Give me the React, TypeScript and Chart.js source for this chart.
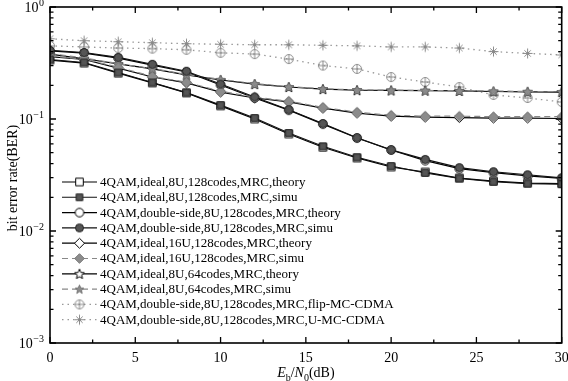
import React, { useEffect, useRef } from 'react';
import { Chart, registerables } from 'chart.js';
Chart.register(...registerables);

const snr = [0, 2, 4, 6, 8, 10, 12, 14, 16, 18, 20, 22, 24, 26, 28, 30];

const ideal8U128Theory = [0.336, 0.316, 0.257, 0.21, 0.171, 0.131, 0.1, 0.0735, 0.056, 0.0449, 0.0373, 0.0336, 0.0297, 0.0279, 0.0268, 0.0265];
const ideal8U128Simu = [0.34, 0.32, 0.26, 0.212, 0.172, 0.133, 0.102, 0.075, 0.057, 0.0455, 0.038, 0.033, 0.0295, 0.0275, 0.0265, 0.0262];
const double8U128Theory = [0.405, 0.388, 0.35, 0.303, 0.263, 0.201, 0.154, 0.12, 0.09, 0.0676, 0.0529, 0.0425, 0.036, 0.0332, 0.031, 0.0295];
const double8U128Simu = [0.41, 0.392, 0.355, 0.308, 0.267, 0.205, 0.157, 0.121, 0.091, 0.068, 0.053, 0.0436, 0.0368, 0.0338, 0.0318, 0.0298];
const ideal16U128Theory = [0.36, 0.34, 0.285, 0.237, 0.21, 0.174, 0.154, 0.142, 0.125, 0.113, 0.106, 0.104, 0.103, 0.102, 0.102, 0.101];
const ideal16U128Simu = [0.365, 0.343, 0.29, 0.24, 0.213, 0.177, 0.157, 0.144, 0.127, 0.115, 0.108, 0.106, 0.106, 0.105, 0.105, 0.105];
const ideal8U64Theory = [0.38, 0.345, 0.31, 0.28, 0.248, 0.223, 0.205, 0.193, 0.185, 0.181, 0.18, 0.179, 0.178, 0.176, 0.175, 0.174];
const ideal8U64Simu = [0.385, 0.35, 0.312, 0.282, 0.25, 0.226, 0.207, 0.195, 0.186, 0.182, 0.181, 0.18, 0.179, 0.178, 0.176, 0.176];
const flipMcCdma = [0.45, 0.44, 0.43, 0.425, 0.415, 0.39, 0.38, 0.343, 0.3, 0.28, 0.237, 0.214, 0.193, 0.164, 0.154, 0.142];
const uMcCdma = [0.52, 0.5, 0.49, 0.48, 0.47, 0.465, 0.46, 0.46, 0.455, 0.45, 0.44, 0.44, 0.43, 0.4, 0.385, 0.373];

const seriesLabels = [
  '4QAM,ideal,8U,128codes,MRC,theory',
  '4QAM,ideal,8U,128codes,MRC,simu',
  '4QAM,double-side,8U,128codes,MRC,theory',
  '4QAM,double-side,8U,128codes,MRC,simu',
  '4QAM,ideal,16U,128codes,MRC,theory',
  '4QAM,ideal,16U,128codes,MRC,simu',
  '4QAM,ideal,8U,64codes,MRC,theory',
  '4QAM,ideal,8U,64codes,MRC,simu',
  '4QAM,double-side,8U,128codes,MRC,flip-MC-CDMA',
  '4QAM,double-side,8U,128codes,MRC,U-MC-CDMA',
];

const xTickValues = [0, 5, 10, 15, 20, 25, 30];
const yDecades = [-3, -2, -1, 0];
const xTitle = ['E', 'b', '/', 'N', '0', '(dB)'];
const yTitle = 'bit error rate(BER)';

const SERIF = '"Liberation Serif", "Times New Roman", serif';

type Kind = 'square' | 'circle' | 'diamond' | 'star5' | 'circlePlus' | 'asterisk';

function makeMarker(kind: Kind, fill: string, stroke: string, r: number, lw = 1): HTMLCanvasElement {
  const size = Math.ceil(2 * r + lw + 2);
  const c = document.createElement('canvas');
  c.width = size;
  c.height = size;
  const ctx = c.getContext('2d')!;
  const cx = size / 2;
  const cy = size / 2;
  ctx.lineWidth = lw;
  ctx.strokeStyle = stroke;
  ctx.fillStyle = fill;
  ctx.beginPath();
  if (kind === 'square') {
    ctx.rect(cx - r, cy - r, 2 * r, 2 * r);
  } else if (kind === 'circle') {
    ctx.arc(cx, cy, r, 0, Math.PI * 2);
  } else if (kind === 'diamond') {
    ctx.moveTo(cx, cy - r);
    ctx.lineTo(cx + r, cy);
    ctx.lineTo(cx, cy + r);
    ctx.lineTo(cx - r, cy);
    ctx.closePath();
  } else if (kind === 'star5') {
    const inner = r * 0.45;
    for (let i = 0; i < 10; i++) {
      const rr = i % 2 === 0 ? r : inner;
      const a = -Math.PI / 2 + (i * Math.PI) / 5;
      const px = cx + rr * Math.cos(a);
      const py = cy + rr * Math.sin(a) + r * 0.1;
      if (i === 0) ctx.moveTo(px, py);
      else ctx.lineTo(px, py);
    }
    ctx.closePath();
  } else if (kind === 'circlePlus') {
    ctx.arc(cx, cy, r, 0, Math.PI * 2);
    if (fill !== 'none') ctx.fill();
    ctx.stroke();
    ctx.beginPath();
    ctx.moveTo(cx - r, cy);
    ctx.lineTo(cx + r, cy);
    ctx.moveTo(cx, cy - r);
    ctx.lineTo(cx, cy + r);
    ctx.stroke();
    return c;
  } else if (kind === 'asterisk') {
    for (let i = 0; i < 4; i++) {
      const a = (i * Math.PI) / 4;
      const rr = i % 2 === 0 ? r : r * 0.9;
      ctx.moveTo(cx - rr * Math.cos(a), cy - rr * Math.sin(a));
      ctx.lineTo(cx + rr * Math.cos(a), cy + rr * Math.sin(a));
    }
    ctx.stroke();
    return c;
  }
  if (fill !== 'none') ctx.fill();
  ctx.stroke();
  return c;
}

export default function App() {
  const ref = useRef<HTMLCanvasElement | null>(null);

  useEffect(() => {
    const canvas = ref.current;
    if (!canvas) return;

    const seriesValues = [
      ideal8U128Theory, ideal8U128Simu, double8U128Theory, double8U128Simu,
      ideal16U128Theory, ideal16U128Simu, ideal8U64Theory, ideal8U64Simu,
      flipMcCdma, uMcCdma,
    ];

    const styles = [
      { color: '#000', width: 1.2, dash: [] as number[], marker: makeMarker('square', '#fff', '#000', 3.8), order: 2 },
      { color: '#111', width: 1.1, dash: [] as number[], marker: makeMarker('square', '#555', '#222', 3.3), order: 1 },
      { color: '#000', width: 1.2, dash: [] as number[], marker: makeMarker('circle', '#fff', '#000', 4.3), order: 2 },
      { color: '#111', width: 1.1, dash: [] as number[], marker: makeMarker('circle', '#555', '#222', 4.0), order: 1 },
      { color: '#000', width: 1.2, dash: [] as number[], marker: makeMarker('diamond', '#fff', '#000', 5.0), order: 2 },
      { color: '#888', width: 1.2, dash: [6, 4], marker: makeMarker('diamond', '#8c8c8c', '#777', 4.8), order: 1 },
      { color: '#000', width: 1.2, dash: [] as number[], marker: makeMarker('star5', '#fff', '#000', 5.2), order: 2 },
      { color: '#888', width: 1.2, dash: [6, 4], marker: makeMarker('star5', '#8c8c8c', '#777', 4.6), order: 1 },
      { color: '#999', width: 1.3, dash: [1.5, 4], marker: makeMarker('circlePlus', 'none', '#8a8a8a', 4.5), order: 3 },
      { color: '#999', width: 1.3, dash: [1.5, 4], marker: makeMarker('asterisk', 'none', '#8a8a8a', 5.0), order: 3 },
    ];

    const datasets = seriesValues.map((vals, i) => ({
      label: seriesLabels[i],
      data: snr.map((x, j) => ({ x, y: vals[j] })),
      borderColor: styles[i].color,
      borderWidth: styles[i].width,
      borderDash: styles[i].dash,
      pointStyle: styles[i].marker as any,
      pointRadius: 5,
      backgroundColor: styles[i].color,
      fill: false,
      tension: 0,
      order: styles[i].order,
    }));

    const decorPlugin = {
      id: 'decor',
      afterDraw(chart: any) {
        const ctx: CanvasRenderingContext2D = chart.ctx;
        const { left, right, top, bottom } = chart.chartArea;
        const xs = chart.scales.x;
        const ys = chart.scales.y;
        ctx.save();
        ctx.strokeStyle = '#000';
        ctx.fillStyle = '#000';
        ctx.setLineDash([]);
        // frame
        ctx.lineWidth = 1.6;
        ctx.strokeRect(left, top, right - left, bottom - top);
        // x ticks
        ctx.lineWidth = 1.3;
        for (let v = 0; v <= 30; v += 2.5) {
          const px = xs.getPixelForValue(v);
          const len = v % 5 === 0 ? 6 : 3.5;
          ctx.beginPath();
          ctx.moveTo(px, bottom);
          ctx.lineTo(px, bottom - len);
          ctx.moveTo(px, top);
          ctx.lineTo(px, top + len);
          ctx.stroke();
        }
        // y ticks
        for (const d of yDecades) {
          for (let m = 1; m <= 9; m++) {
            const v = m * Math.pow(10, d);
            if (v > 1.0000001) break;
            const py = ys.getPixelForValue(v);
            const len = m === 1 ? 6 : 3.5;
            ctx.beginPath();
            ctx.moveTo(left, py);
            ctx.lineTo(left + len, py);
            ctx.moveTo(right, py);
            ctx.lineTo(right - len, py);
            ctx.stroke();
          }
        }
        // x tick labels
        ctx.font = `14px ${SERIF}`;
        ctx.textAlign = 'center';
        ctx.textBaseline = 'middle';
        for (const v of xTickValues) {
          ctx.fillText(String(v), xs.getPixelForValue(v), bottom + 15);
        }
        // y tick labels
        for (const d of yDecades) {
          const py = ys.getPixelForValue(Math.pow(10, d));
          const exp = d === 0 ? '0' : '\u2212' + String(-d);
          ctx.font = `10px ${SERIF}`;
          const ew = ctx.measureText(exp).width;
          ctx.textAlign = 'left';
          ctx.textBaseline = 'alphabetic';
          const xr = left - 6;
          ctx.fillText(exp, xr - ew, py - 1);
          ctx.font = `14px ${SERIF}`;
          const bw = ctx.measureText('10').width;
          ctx.fillText('10', xr - ew - bw - 0.5, py + 5);
        }
        // y title
        ctx.save();
        ctx.translate(13, (top + bottom) / 2 + 3);
        ctx.rotate(-Math.PI / 2);
        ctx.font = `14px ${SERIF}`;
        ctx.textAlign = 'center';
        ctx.textBaseline = 'middle';
        ctx.fillText(yTitle, 0, 0);
        ctx.restore();
        // x title
        const parts = [
          { t: xTitle[0], f: `italic 14px ${SERIF}`, dy: 0 },
          { t: xTitle[1], f: `10px ${SERIF}`, dy: 4 },
          { t: xTitle[2], f: `14px ${SERIF}`, dy: 0 },
          { t: xTitle[3], f: `italic 14px ${SERIF}`, dy: 0 },
          { t: xTitle[4], f: `10px ${SERIF}`, dy: 4 },
          { t: xTitle[5], f: `14px ${SERIF}`, dy: 0 },
        ];
        let total = 0;
        for (const p of parts) {
          ctx.font = p.f;
          total += ctx.measureText(p.t).width;
        }
        let cx = (left + right) / 2 - total / 2;
        const baseY = bottom + 34;
        ctx.textAlign = 'left';
        ctx.textBaseline = 'alphabetic';
        for (const p of parts) {
          ctx.font = p.f;
          ctx.fillText(p.t, cx, baseY + p.dy);
          cx += ctx.measureText(p.t).width;
        }
        // legend
        const lx0 = 62;
        const lx1 = 97;
        const lmx = 79.5;
        const ltx = 100;
        const ly0 = 182;
        const lstep = 15.3;
        chart.data.datasets.forEach((ds: any, i: number) => {
          const y = ly0 + i * lstep;
          ctx.strokeStyle = ds.borderColor;
          ctx.lineWidth = ds.borderWidth;
          ctx.setLineDash(ds.borderDash || []);
          ctx.beginPath();
          ctx.moveTo(lx0, y);
          ctx.lineTo(lx1, y);
          ctx.stroke();
          ctx.setLineDash([]);
          const img = ds.pointStyle as HTMLCanvasElement;
          ctx.drawImage(img, lmx - img.width / 2, y - img.height / 2);
          ctx.fillStyle = '#000';
          ctx.font = `13px ${SERIF}`;
          ctx.textAlign = 'left';
          ctx.textBaseline = 'middle';
          ctx.fillText(ds.label, ltx, y + 0.5);
        });
        ctx.restore();
      },
    };

    const chart = new Chart(canvas, {
      type: 'line',
      data: { datasets: datasets as any },
      options: {
        responsive: false,
        animation: false,
        devicePixelRatio: 1,
        layout: { padding: { left: 50, right: 6, top: 7, bottom: 38 } },
        plugins: { legend: { display: false }, tooltip: { enabled: false } },
        scales: {
          x: { type: 'linear', min: 0, max: 30, display: false },
          y: { type: 'logarithmic', min: 0.001, max: 1, display: false },
        },
      },
      plugins: [decorPlugin],
    });
    return () => chart.destroy();
  }, []);

  return (
    <div style={{ position: 'fixed', left: 0, top: 0, width: 568, height: 381, background: '#fff' }}>
      <canvas ref={ref} width={568} height={381} style={{ width: 568, height: 381 }} />
    </div>
  );
}
